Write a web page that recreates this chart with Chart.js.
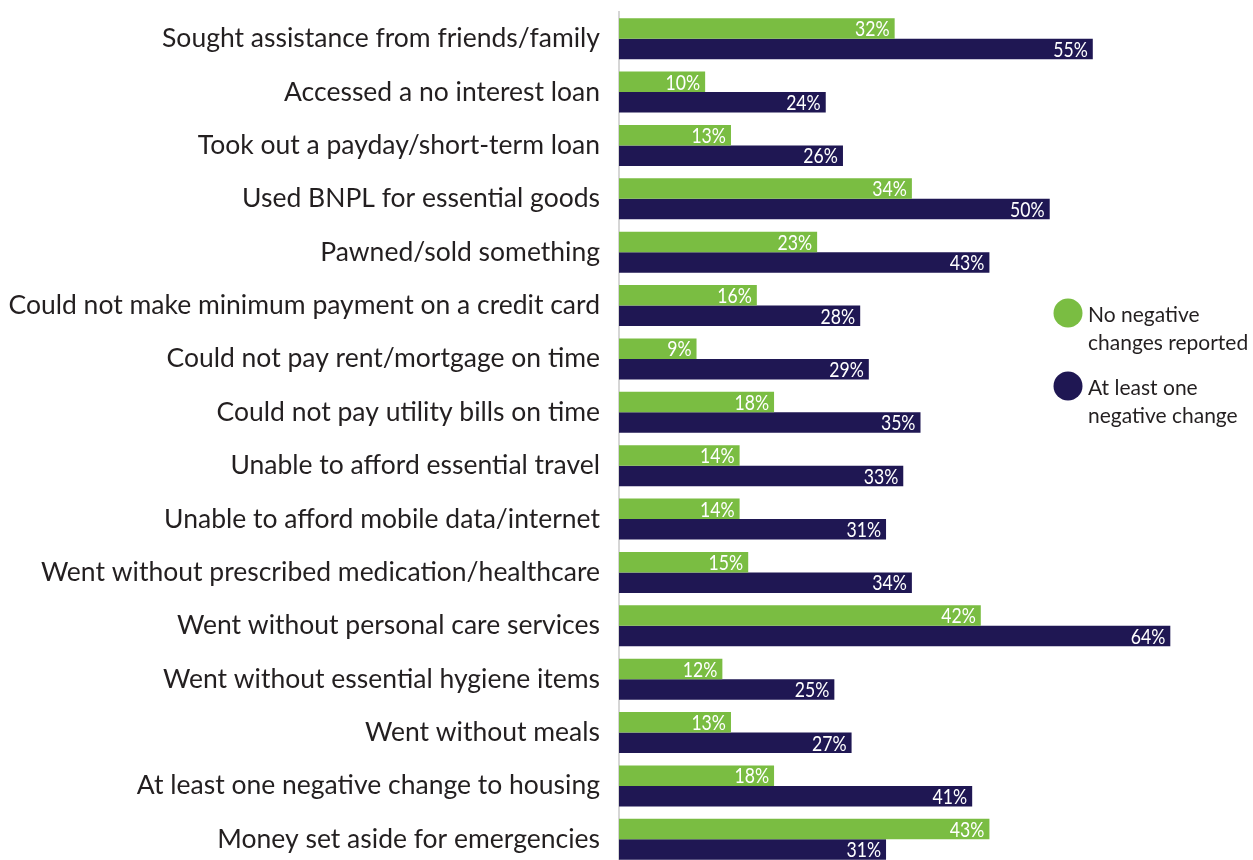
<!DOCTYPE html>
<html>
<head>
<meta charset="utf-8">
<script src="https://cdn.jsdelivr.net/npm/chart.js@4.4.1/dist/chart.umd.min.js"></script>
<style>
  html, body { margin: 0; padding: 0; background: #fff; overflow: hidden; }
  #wrap { position: relative; width: 1253px; height: 866px; }
</style>
</head>
<body>
<div id="wrap"><canvas id="barCanvas"></canvas></div>
<script>
const categories = [
  "Sought assistance from friends/family",
  "Accessed a no interest loan",
  "Took out a payday/short-term loan",
  "Used BNPL for essential goods",
  "Pawned/sold something",
  "Could not make minimum payment on a credit card",
  "Could not pay rent/mortgage on time",
  "Could not pay utility bills on time",
  "Unable to afford essential travel",
  "Unable to afford mobile data/internet",
  "Went without prescribed medication/healthcare",
  "Went without personal care services",
  "Went without essential hygiene items",
  "Went without meals",
  "At least one negative change to housing",
  "Money set aside for emergencies"
];
const noNegative = [32, 10, 13, 34, 23, 16, 9, 18, 14, 14, 15, 42, 12, 13, 18, 43];
const atLeastOne = [55, 24, 26, 50, 43, 28, 29, 35, 33, 31, 34, 64, 25, 27, 41, 31];
const seriesNames = [
  ["No negative", "changes reported"],
  ["At least one", "negative change"]
];
const colors = ["#7abd42", "#1f1753"];

const FONT = "Lato, 'Noto Sans', sans-serif";

// white percentage labels tucked inside the end of each bar
const barValueLabels = {
  id: "barValueLabels",
  afterDatasetsDraw(chart) {
    const ctx = chart.ctx;
    ctx.save();
    ctx.fillStyle = "#ffffff";
    ctx.font = "21px " + FONT;
    ctx.textAlign = "right";
    ctx.textBaseline = "middle";
    chart.data.datasets.forEach((ds, i) => {
      chart.getDatasetMeta(i).data.forEach((bar, j) => {
        ctx.save();
        ctx.translate(bar.x - 5, bar.y + 1);
        ctx.scale(0.84, 1);
        ctx.fillText(ds.data[j] + "%", 0, 0);
        ctx.restore();
      });
    });
    ctx.restore();
  }
};

// legend with big dots and two-line names, to the right of the bars
const dotLegend = {
  id: "dotLegend",
  afterDraw(chart) {
    const ctx = chart.ctx;
    ctx.save();
    ctx.font = "21px " + FONT;
    ctx.textAlign = "left";
    ctx.textBaseline = "alphabetic";
    seriesNames.forEach((lines, i) => {
      const cy = 313 + i * 73;
      ctx.fillStyle = colors[i];
      ctx.beginPath();
      ctx.arc(1068, cy, 14.5, 0, Math.PI * 2);
      ctx.fill();
      ctx.fillStyle = "#231f20";
      lines.forEach((t, k) => ctx.fillText(t, 1088, cy + 9 + k * 28));
    });
    ctx.restore();
  }
};

const barCanvas = document.getElementById("barCanvas");

new Chart(barCanvas, {
  type: "bar",
  data: {
    labels: categories,
    datasets: [
      { label: seriesNames[0].join(" "), data: noNegative, backgroundColor: colors[0] },
      { label: seriesNames[1].join(" "), data: atLeastOne, backgroundColor: colors[1] }
    ]
  },
  options: {
    indexAxis: "y",
    responsive: true,
    maintainAspectRatio: false,
    animation: false,
    layout: { padding: { top: 12, right: 31, bottom: 0, left: 0 } },
    datasets: { bar: { categoryPercentage: 0.77, barPercentage: 1 } },
    plugins: { legend: { display: false }, tooltip: { enabled: false } },
    scales: {
      x: { display: false, min: 0, max: 70 },
      y: {
        afterFit(scale) {
          scale.width = 619;
          scale.paddingTop = 0;
          scale.paddingBottom = 0;
        },
        grid: { display: false, drawTicks: false },
        border: { display: true, color: "#d6d6d6", width: 2 },
        ticks: { color: "#231f20", padding: 19, font: { family: FONT, size: 26.5 } }
      }
    }
  },
  plugins: [barValueLabels, dotLegend]
});
</script>
</body>
</html>
